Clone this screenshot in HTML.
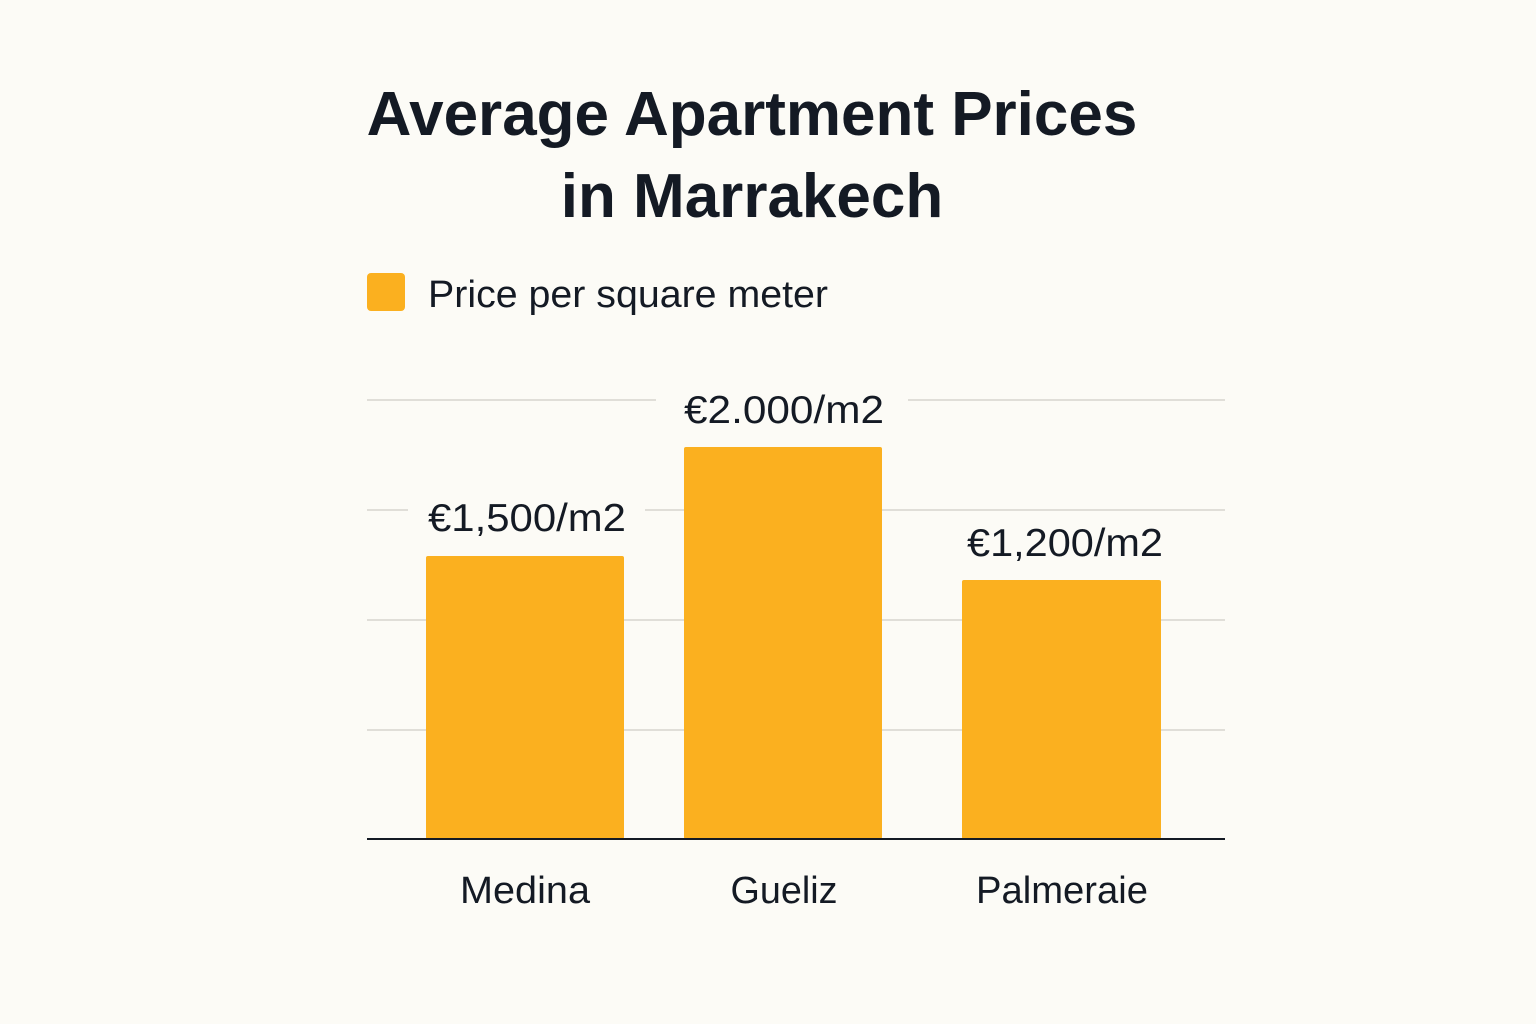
<!DOCTYPE html>
<html><head><meta charset="utf-8"><style>
html,body{margin:0;padding:0;background:#fcfbf6;}
svg{display:block}
</style></head><body>
<svg width="1536" height="1024" viewBox="0 0 1536 1024" xmlns="http://www.w3.org/2000/svg">
<rect width="1536" height="1024" fill="#fcfbf6"/>
<g font-family="Liberation Sans, sans-serif" fill="#141a24">
<text x="752" y="135" font-size="62" font-weight="bold" text-anchor="middle">Average Apartment Prices</text>
<text x="752" y="217" font-size="62" font-weight="bold" text-anchor="middle">in Marrakech</text>
</g>
<rect x="367" y="273" width="38" height="38" rx="4" fill="#fbb01f"/>
<text x="428" y="307" font-family="Liberation Sans, sans-serif" font-size="38" fill="#141a24" textLength="400" lengthAdjust="spacingAndGlyphs">Price per square meter</text>
<g stroke="#e0ded8" stroke-width="2">
<line x1="367" y1="400" x2="656" y2="400"/>
<line x1="908" y1="400" x2="1225" y2="400"/>
<line x1="367" y1="510" x2="408" y2="510"/>
<line x1="645" y1="510" x2="1225" y2="510"/>
<line x1="367" y1="620" x2="1225" y2="620"/>
<line x1="367" y1="730" x2="1225" y2="730"/>
</g>
<g fill="#fbb01f">
<rect x="426" y="556" width="198" height="283" rx="2"/>
<rect x="684" y="447" width="198" height="392" rx="2"/>
<rect x="962" y="580" width="199" height="259" rx="2"/>
</g>
<line x1="367" y1="839" x2="1225" y2="839" stroke="#141a24" stroke-width="2"/>
<g font-family="Liberation Sans, sans-serif" font-size="39" fill="#141a24" text-anchor="middle" lengthAdjust="spacingAndGlyphs">
<text x="527" y="531" textLength="198" lengthAdjust="spacingAndGlyphs">€1,500/m2</text>
<text x="784" y="423" textLength="200" lengthAdjust="spacingAndGlyphs">€2.000/m2</text>
<text x="1065" y="556" textLength="196" lengthAdjust="spacingAndGlyphs">€1,200/m2</text>
<text x="525" y="903" font-size="38" textLength="130" lengthAdjust="spacingAndGlyphs">Medina</text>
<text x="784" y="903" font-size="38" textLength="107" lengthAdjust="spacingAndGlyphs">Gueliz</text>
<text x="1062" y="903" font-size="38" textLength="172" lengthAdjust="spacingAndGlyphs">Palmeraie</text>
</g>
</svg>
</body></html>
